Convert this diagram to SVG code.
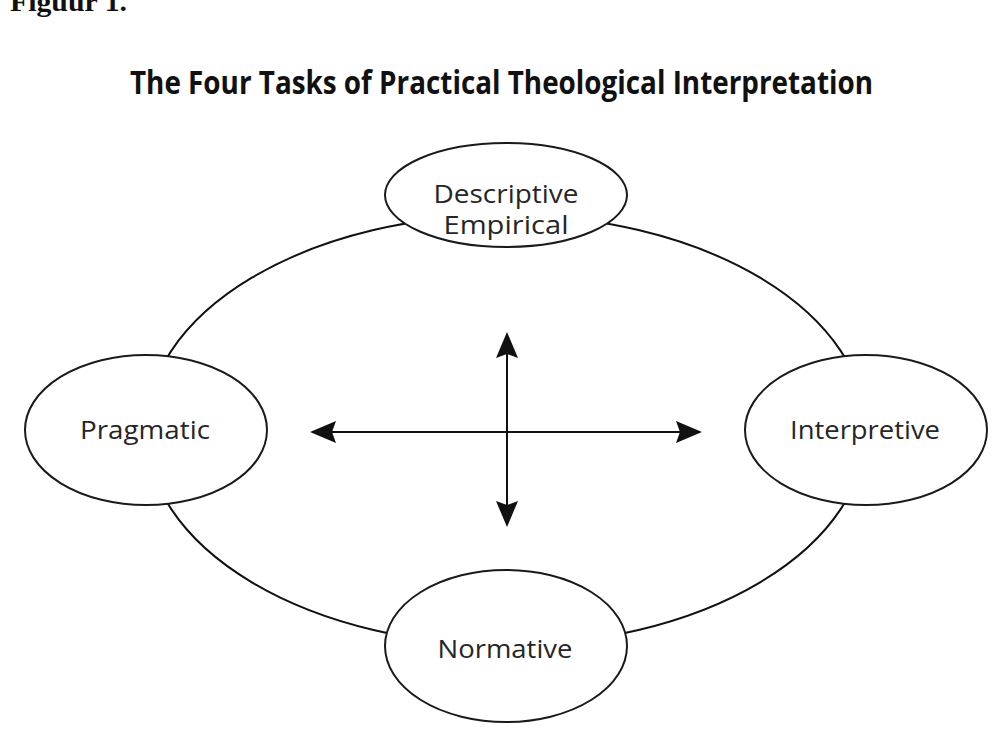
<svg xmlns="http://www.w3.org/2000/svg" width="995" height="736" viewBox="0 0 995 736">
<defs>
<style>
.node ellipse{fill:#fff;stroke:#1a1a1a;stroke-width:2}
.lbl{font-family:"Open Sans","Liberation Sans",sans-serif;font-size:25px;fill:#262626;text-anchor:middle}
.conn{stroke:#111;stroke-width:2;fill:none}
</style>
<marker id="ah" markerUnits="userSpaceOnUse" markerWidth="26" markerHeight="22" viewBox="0 0 26 22" refX="24" refY="11" orient="auto-start-reverse">
<path d="M0,0 L26,11 L0,22 L4,11 Z" fill="#111"/>
</marker>
</defs>
<rect width="995" height="736" fill="#fff"/>
<text x="10" y="11" font-family="'Liberation Serif',serif" font-weight="bold" font-size="28" textLength="117" lengthAdjust="spacingAndGlyphs" fill="#111">Figuur 1.</text>
<text x="130" y="94" font-family="'Open Sans','Liberation Sans',sans-serif" font-weight="bold" font-size="32" textLength="743" lengthAdjust="spacingAndGlyphs" fill="#111">The Four Tasks of Practical Theological Interpretation</text>
<g id="connectors">
<ellipse class="conn" cx="506" cy="430" rx="360" ry="215"/>
<line class="conn" x1="312" y1="432" x2="700" y2="432" marker-start="url(#ah)" marker-end="url(#ah)"/>
<line class="conn" x1="507" y1="334" x2="507" y2="525" marker-start="url(#ah)" marker-end="url(#ah)"/>
</g>
<g id="node-descriptive" class="node">
<ellipse cx="506" cy="195" rx="121" ry="52"/>
<text class="lbl" x="506" y="203" textLength="145" lengthAdjust="spacingAndGlyphs">Descriptive</text>
<text class="lbl" x="506" y="234" textLength="125" lengthAdjust="spacingAndGlyphs">Empirical</text>
</g>
<g id="node-pragmatic" class="node">
<ellipse cx="146" cy="430" rx="121" ry="75"/>
<text class="lbl" x="145" y="439" textLength="130" lengthAdjust="spacingAndGlyphs">Pragmatic</text>
</g>
<g id="node-interpretive" class="node">
<ellipse cx="866" cy="430" rx="121" ry="75"/>
<text class="lbl" x="865" y="439" textLength="150" lengthAdjust="spacingAndGlyphs">Interpretive</text>
</g>
<g id="node-normative" class="node">
<ellipse cx="506" cy="646" rx="121" ry="76"/>
<text class="lbl" x="505" y="658" textLength="135" lengthAdjust="spacingAndGlyphs">Normative</text>
</g>
</svg>
